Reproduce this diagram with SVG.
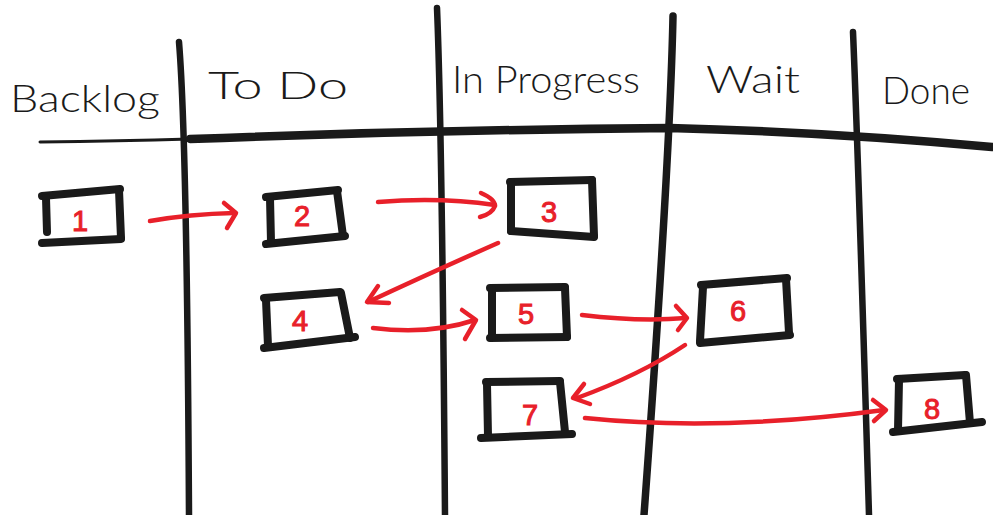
<svg xmlns="http://www.w3.org/2000/svg" width="993" height="515" viewBox="0 0 993 515">
  <style>
    .ink { fill: none; stroke: #1a1a1a; stroke-linecap: round; stroke-linejoin: round; }
    .box path { fill: none; stroke: #1a1a1a; stroke-width: 8; stroke-linecap: round; }
    .arrow path { fill: none; stroke: #e8202a; stroke-width: 4.5; stroke-linecap: round; stroke-linejoin: round; }
    .head { font-family: "Lato", "Open Sans", sans-serif; font-weight: 300; font-size: 38px; fill: #1a1a1a; }
    .num { font-family: "Liberation Sans", sans-serif; font-size: 29px; fill: #e8202a; stroke: #e8202a; stroke-width: 1; text-anchor: middle; }
  </style>
  <rect width="993" height="515" fill="#ffffff"/>

  <!-- board grid -->
  <g id="grid">
    <path class="ink" stroke-width="6.5" d="M179,42 Q187,140 189,515"/>
    <path class="ink" stroke-width="6.5" d="M437,8 Q442,130 445,515"/>
    <path class="ink" stroke-width="7.5" d="M673,16 Q670,160 644,515"/>
    <path class="ink" stroke-width="6.5" d="M853,32 Q858,150 869,515"/>
    <path class="ink" stroke-width="3" d="M40,142 Q120,141 190,139"/>
    <path class="ink" stroke-width="8.5" d="M190,139 Q430,130 670,128 Q830,132 992,147"/>
  </g>

  <!-- column headings -->
  <g id="headings">
    <text class="head" x="10" y="112" textLength="150" lengthAdjust="spacingAndGlyphs">Backlog</text>
    <text class="head" x="208" y="99" textLength="140" lengthAdjust="spacingAndGlyphs">To Do</text>
    <text class="head" x="452" y="93" textLength="188" lengthAdjust="spacingAndGlyphs">In Progress</text>
    <text class="head" x="706" y="93" textLength="94" lengthAdjust="spacingAndGlyphs">Wait</text>
    <text class="head" x="882" y="104" textLength="88" lengthAdjust="spacingAndGlyphs">Done</text>
  </g>

  <!-- cards -->
  <g id="card1" class="box">
    <path d="M42,196 L120,189"/><path d="M119,190 L121,238"/><path d="M42,243 L121,239"/><path d="M46,198 L47,232"/>
    <text class="num" x="80" y="231">1</text>
  </g>
  <g id="card2" class="box">
    <path d="M266,197 L338,190"/><path d="M337,191 L343,236"/><path d="M266,244 L345,236"/><path d="M270,198 L271,242"/>
    <text class="num" x="302" y="226">2</text>
  </g>
  <g id="card3" class="box">
    <path d="M510,182 L592,180"/><path d="M592,180 L594,236"/><path d="M511,231 L594,237"/><path d="M511,182 L511,231"/>
    <text class="num" x="549" y="222">3</text>
  </g>
  <g id="card4" class="box">
    <path d="M264,298 L340,292"/><path d="M341,293 L350,338"/><path d="M264,348 L355,337"/><path d="M266,300 L268,346"/>
    <text class="num" x="300" y="331">4</text>
  </g>
  <g id="card5" class="box">
    <path d="M490,288 L565,287"/><path d="M565,288 L567,337"/><path d="M490,338 L567,337"/><path d="M492,290 L492,336"/>
    <text class="num" x="526" y="324">5</text>
  </g>
  <g id="card6" class="box">
    <path d="M701,285 L787,278"/><path d="M786,279 L789,333"/><path d="M700,343 L790,335"/><path d="M703,287 L700,341"/>
    <text class="num" x="738" y="321">6</text>
  </g>
  <g id="card7" class="box">
    <path d="M486,382 L560,381"/><path d="M560,382 L565,432"/><path d="M481,438 L572,434"/><path d="M487,384 L488,436"/>
    <text class="num" x="530" y="425">7</text>
  </g>
  <g id="card8" class="box">
    <path d="M897,379 L965,375"/><path d="M966,375 L970,423"/><path d="M893,432 L982,422"/><path d="M899,380 L898,430"/>
    <text class="num" x="932" y="419">8</text>
  </g>

  <!-- moves between columns -->
  <g id="connectors" class="arrow">
    <path d="M150,221 Q190,214 234,213"/><path d="M224,203 L236,213 L227,228"/>
    <path d="M378,202 Q440,197 495,205"/><path d="M481,193 Q495,199 495,206 Q492,214 480,217"/>
    <path d="M498,243 Q430,273 368,302"/><path d="M378,286 L367,302 L389,303"/>
    <path d="M373,328 Q430,335 475,320"/><path d="M462,310 L476,320 L465,339"/>
    <path d="M582,315 Q640,322 686,318"/><path d="M676,306 L687,318 L678,330"/>
    <path d="M685,345 Q640,375 577,398"/><path d="M584,384 L573,398 L590,404"/>
    <path d="M585,418 Q720,432 884,410"/><path d="M873,400 L886,410 L874,421"/>
  </g>
</svg>
